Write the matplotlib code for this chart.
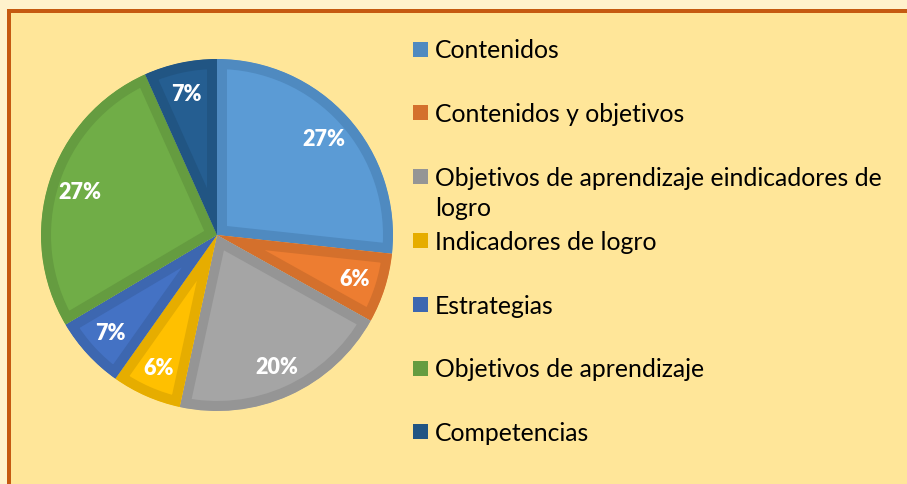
import matplotlib
matplotlib.use("Agg")
import matplotlib.pyplot as plt
from matplotlib.patches import Rectangle

categories = [
    "Contenidos",
    "Contenidos y objetivos",
    "Objetivos de aprendizaje eindicadores de\nlogro",
    "Indicadores de logro",
    "Estrategias",
    "Objetivos de aprendizaje",
    "Competencias",
]
values = [26.7, 6.4, 20.3, 6.4, 6.7, 26.8, 6.7]
face_colors = ["#5B9BD5", "#ED7D31", "#A5A5A5", "#FFC000", "#4472C4", "#70AD47", "#255E91"]
edge_colors = ["#4F8AC0", "#D4702C", "#959595", "#E6AD00", "#3D67B0", "#659C40", "#215583"]

W, H, DPI = 907, 485, 100
fig = plt.figure(figsize=(W / DPI, H / DPI), dpi=DPI)
fig.patch.set_facecolor("#FFF2CC")

def fx(px):
    return px / W

def fy(py):
    return 1 - py / H

# framed panel
fig.patches.append(Rectangle((fx(8.5), fy(H + 30)), 1.3, (H + 30 - 12) / H,
                             transform=fig.transFigure, facecolor="#FFE699",
                             edgecolor="#C55A11", linewidth=4 * 72 / DPI, zorder=-1))

# pie axes: center (217,236), radius 176 px
cx, cy, r = 217, 236, 176
ax = fig.add_axes([fx(cx - r), fy(cy + r), 2 * r / W, 2 * r / H])
ax.set_zorder(2)
ax.set_facecolor("none")
wedges, texts, autotexts = ax.pie(
    values, colors=face_colors, startangle=90, counterclock=False,
    autopct="%.0f%%", pctdistance=0.82, radius=1,
    textprops=dict(color="white", fontsize=15.5, fontweight="heavy", family="Lato"),
)
for w, ec in zip(wedges, edge_colors):
    w.set_edgecolor(ec)
    w.set_linewidth(20 * 72 / DPI)
    w.set_joinstyle("miter")
    w.set_clip_on(True)
    w.set_clip_path(w)
ax.set_xlim(-1, 1)
ax.set_ylim(-1, 1)
ax.set_aspect("equal")
ax.axis("off")

# legend
y0, dy = 49, 63.8
line_h = 30
sq = 15
for i, (lab, ec) in enumerate(zip(categories, edge_colors)):
    yc = y0 + i * dy
    fig.patches.append(Rectangle((fx(413), fy(yc + 1 + sq / 2)), sq / W, sq / H,
                                 transform=fig.transFigure, facecolor=ec,
                                 edgecolor="none", zorder=2))
    for k, line in enumerate(lab.split("\n")):
        fig.text(fx(435), fy(yc + k * line_h), line, fontsize=17.8, family="Lato",
                 color="#000000", va="center_baseline", ha="left", zorder=3)

fig.savefig("out.png", dpi=DPI, facecolor=fig.get_facecolor())
